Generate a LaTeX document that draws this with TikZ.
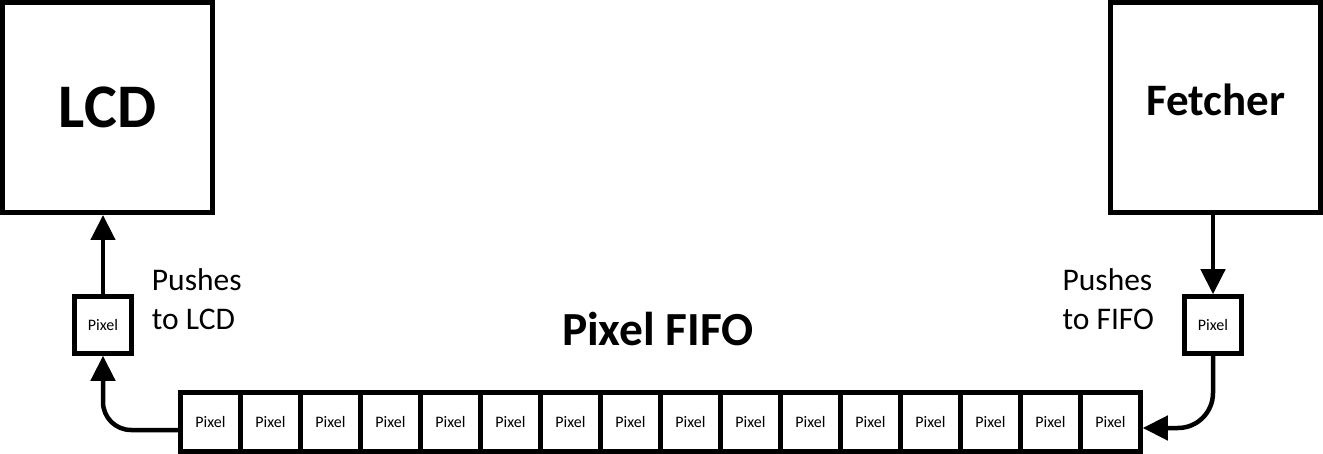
\documentclass[tikz,border=0pt]{standalone}
\usepackage{fontspec}
\setmainfont{Carlito}
\usetikzlibrary{positioning,calc,arrows.meta}
\newcommand*{\txtsize}[1]{\fontsize{#1pt}{1.24\dimexpr #1pt\relax}\selectfont}

\begin{document}
\begin{tikzpicture}[x=1pt,y=-1pt,
  unit/.style={draw,line width=5pt,minimum size=210pt,inner sep=0pt},
  pixbox/.style={draw,line width=4.5pt,minimum size=57pt,inner sep=0pt,font=\txtsize{16}},
  cell/.style={draw,line width=4.5pt,minimum width=60pt,minimum height=59pt,inner sep=0pt,font=\txtsize{16}},
  note/.style={align=left,inner sep=0pt,font=\txtsize{31.5}},
  push/.style={line width=4.5pt,-{Triangle[length=25pt,width=24pt]}}]
\useasboundingbox (0,0) rectangle (1323,454);
% The two units in the top corners
\node[unit,font=\bfseries\txtsize{62}] (lcd) at (107.5,107.5) {LCD};
\node[unit,label={[font=\bfseries\txtsize{45},yshift=8pt]center:Fetcher}] (fetcher) at (1215.5,107.5) {};
% Pixels on their way in and out
\node[pixbox] (pixL) at (103,325) {Pixel};
\node[pixbox] (pixR) at (1213,325) {Pixel};
\node[note,right=18pt of pixL,yshift=26pt] (pushL) {Pushes\\to LCD};
\node[note,left=28pt of pixR,yshift=26pt] (pushR) {Pushes\\to FIFO};
% The FIFO itself
\foreach \i in {1,...,16}
  \node[cell] (c\i) at ({150.5+60*\i},422) {Pixel};
\node[font=\bfseries\txtsize{47.5},anchor=base] (title) at (658,345) {Pixel FIFO};
% Arrows
\draw[push] (pixL.north) -- (pixL.north |- lcd.south);
\draw[push,rounded corners=28pt] ([yshift=-8pt]c1.west) -| (pixL.south);
\draw[push] (fetcher.south -| pixR.north) -- (pixR.north);
\draw[push,rounded corners=35pt] (pixR.south) |- ([yshift=-6pt]c16.east);
\end{tikzpicture}
\end{document}
